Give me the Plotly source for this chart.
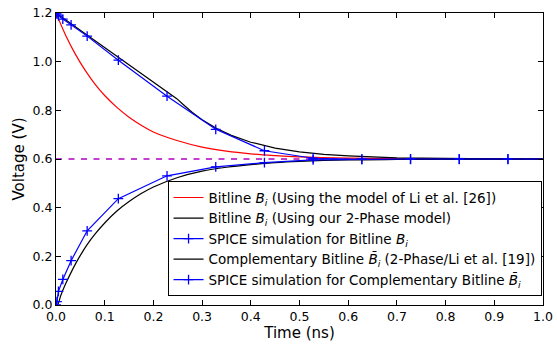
import plotly.graph_objects as go

# ---- data ----
t_li = [0, 0.02, 0.04, 0.06, 0.08, 0.10, 0.125, 0.15, 0.175, 0.20, 0.25, 0.30, 0.35, 0.40, 0.45, 0.50, 0.60, 0.70, 0.80, 1.00]
v_li = [1.2, 1.108, 1.030, 0.964, 0.908, 0.861, 0.812, 0.772, 0.739, 0.711, 0.675, 0.649, 0.632, 0.621, 0.614, 0.609, 0.604, 0.602, 0.601, 0.600]

t_2ph = [0, 0.05, 0.10, 0.15, 0.20, 0.248, 0.26, 0.28, 0.30, 0.33, 0.36, 0.40, 0.45, 0.50, 0.55, 0.60, 0.70, 0.80, 0.90, 1.00]
v_2ph = [1.2, 1.129, 1.058, 0.987, 0.916, 0.848, 0.826, 0.791, 0.761, 0.725, 0.697, 0.669, 0.645, 0.629, 0.619, 0.613, 0.605, 0.602, 0.601, 0.600]

t_spice = [0, 0.002, 0.005, 0.014, 0.031, 0.064, 0.128, 0.228, 0.328, 0.428, 0.528, 0.628, 0.728, 0.828, 0.928, 1.028]
v_spice_b = [1.2, 1.195, 1.188, 1.175, 1.151, 1.105, 1.006, 0.858, 0.722, 0.634, 0.603, 0.599, 0.599, 0.599, 0.599, 0.599]
v_spice_bbar = [0.0, 0.014, 0.056, 0.105, 0.182, 0.305, 0.437, 0.531, 0.568, 0.585, 0.596, 0.599, 0.600, 0.600, 0.600, 0.600]

t_comp = [0, 0.003, 0.01, 0.02, 0.03, 0.04, 0.05, 0.065, 0.08, 0.10, 0.125, 0.15, 0.175, 0.20, 0.25, 0.30, 0.35, 0.40, 0.45, 0.50, 0.60, 0.70, 0.80, 1.00]
v_comp = [0.0, 0.0, 0.040, 0.088, 0.130, 0.169, 0.204, 0.251, 0.291, 0.337, 0.386, 0.425, 0.458, 0.485, 0.524, 0.550, 0.566, 0.577, 0.585, 0.590, 0.596, 0.598, 0.599, 0.600]

t_ref = [0, 1.0]
v_ref = [0.6, 0.6]

names = [
    "Bitline <i>B<sub>i</sub></i> (Using the model of Li et al. [26])",
    "Bitline <i>B<sub>i</sub></i> (Using our 2-Phase model)",
    "SPICE simulation for Bitline <i>B<sub>i</sub></i>",
    "Complementary Bitline <i>B\u0304<sub>i</sub></i> (2-Phase/Li et al. [19])",
    "SPICE simulation for Complementary Bitline <i>B\u0304<sub>i</sub></i>",
]

spice_marker = dict(symbol="cross-thin", size=7, color="#0000ff",
                    line=dict(color="#0000ff", width=1.3))

fig = go.Figure()
fig.add_trace(go.Scatter(x=t_ref, y=v_ref, mode="lines", showlegend=False,
                         line=dict(color="#b000c0", width=1.3, dash="6px,6.5px")))
fig.add_trace(go.Scatter(x=t_li, y=v_li, mode="lines", name=names[0],
                         line=dict(color="#ff0000", width=1.2, shape="spline")))
fig.add_trace(go.Scatter(x=t_2ph, y=v_2ph, mode="lines", name=names[1],
                         line=dict(color="#000000", width=1.2)))
fig.add_trace(go.Scatter(x=t_spice, y=v_spice_b, mode="lines+markers", name=names[2],
                         line=dict(color="#0000ff", width=1.2), marker=spice_marker))
fig.add_trace(go.Scatter(x=t_comp, y=v_comp, mode="lines", name=names[3],
                         line=dict(color="#000000", width=1.2, shape="spline")))
fig.add_trace(go.Scatter(x=t_spice, y=v_spice_bbar, mode="lines+markers", name=names[4],
                         line=dict(color="#0000ff", width=1.2), marker=spice_marker))

axis_common = dict(showline=True, linecolor="black", linewidth=1, mirror="ticks",
                   ticks="inside", ticklen=5, tickcolor="black", showgrid=False,
                   zeroline=False, automargin=False,
                   tickfont=dict(size=12.5, color="black"))

fig.update_layout(
    width=557, height=345,
    margin=dict(l=56, r=14, t=13, b=40),
    paper_bgcolor="white", plot_bgcolor="white",
    font=dict(family="DejaVu Sans", color="black"),
    xaxis=dict(range=[0, 1.0], dtick=0.1, tickformat=".1f",
               title=dict(text="Time (ns)", font=dict(size=15), standoff=1), **axis_common),
    yaxis=dict(range=[0, 1.2], dtick=0.2, tickformat=".1f",
               title=dict(text="Voltage (V)", font=dict(size=15), standoff=4), **axis_common),
    legend=dict(x=0.997, xanchor="right", y=0.03, yanchor="bottom",
                bordercolor="black", borderwidth=1, bgcolor="white",
                font=dict(size=13.5, color="black"), tracegroupgap=0),
)

fig.write_html("out.html", config={"displayModeBar": False},
               post_script="document.body.style.margin='0';document.body.style.overflow='hidden';")
